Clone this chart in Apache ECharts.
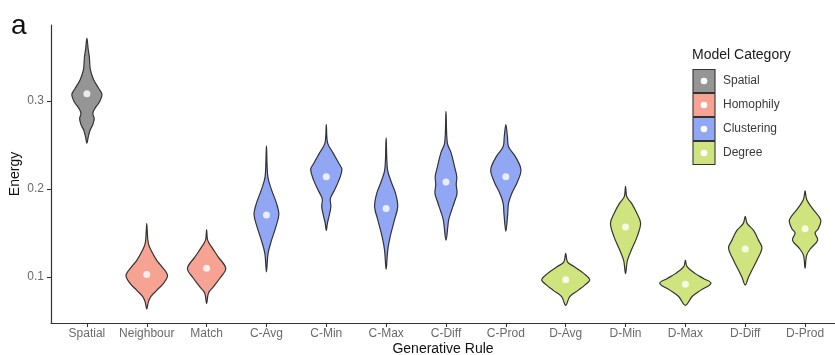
<!DOCTYPE html>
<html>
<head>
<meta charset="utf-8">
<script src="https://cdn.jsdelivr.net/npm/echarts@6/dist/echarts.min.js"></script>
<style>
  html, body { margin: 0; padding: 0; background: #ffffff; }
  #chart { width: 835px; height: 355px; }
</style>
</head>
<body>
<div id="chart"></div>
<script>
// Generative rules along the x axis and the model category of each
const rules = ['Spatial', 'Neighbour', 'Match', 'C-Avg', 'C-Min', 'C-Max', 'C-Diff', 'C-Prod',
               'D-Avg', 'D-Min', 'D-Max', 'D-Diff', 'D-Prod'];
const ruleCategory = [0, 1, 1, 2, 2, 2, 2, 2, 3, 3, 3, 3, 3];
const categoryNames = ['Spatial', 'Homophily', 'Clustering', 'Degree'];
const categoryColors = ['#959595', '#F7A393', '#92A7F4', '#CFE47F'];

// Median energy of each rule (white dots)
const medians = [0.308, 0.103, 0.110, 0.1705, 0.214, 0.178, 0.208, 0.214,
                 0.097, 0.157, 0.092, 0.132, 0.155];

// Energy ticks
const energyTicks = [0.1, 0.2, 0.3];

// Density profiles, top to bottom: energy levels and relative density (1 = widest violin)
const spatialE   = [0.371, 0.358, 0.350, 0.335, 0.324, 0.314, 0.307, 0.299, 0.292, 0.286, 0.280, 0.273, 0.267, 0.259, 0.252];
const spatialD   = [0, 0.05, 0.09, 0.13, 0.25, 0.44, 0.56, 0.47, 0.31, 0.22, 0.27, 0.22, 0.12, 0.05, 0];
const neighbourE = [0.161, 0.146, 0.138, 0.131, 0.119, 0.112, 0.102, 0.093, 0.085, 0.078, 0.072, 0.064];
const neighbourD = [0, 0.03, 0.06, 0.15, 0.37, 0.56, 0.77, 0.62, 0.37, 0.15, 0.06, 0];
const matchE     = [0.154, 0.142, 0.134, 0.123, 0.110, 0.099, 0.089, 0.082, 0.070];
const matchD     = [0, 0.04, 0.19, 0.43, 0.71, 0.50, 0.25, 0.07, 0];
const cAvgE      = [0.249, 0.214, 0.199, 0.184, 0.171, 0.157, 0.142, 0.127, 0.106];
const cAvgD      = [0, 0.05, 0.19, 0.37, 0.46, 0.35, 0.19, 0.06, 0];
const cMinE      = [0.273, 0.252, 0.241, 0.229, 0.222, 0.210, 0.199, 0.189, 0.180, 0.169, 0.161, 0.153];
const cMinD      = [0, 0.05, 0.25, 0.47, 0.58, 0.47, 0.31, 0.15, 0.17, 0.10, 0.04, 0];
const cMaxE      = [0.258, 0.222, 0.208, 0.195, 0.180, 0.165, 0.146, 0.131, 0.109];
const cMaxD      = [0, 0.05, 0.19, 0.35, 0.43, 0.31, 0.15, 0.06, 0];
const cDiffE     = [0.288, 0.252, 0.241, 0.225, 0.214, 0.205, 0.195, 0.185, 0.175, 0.165, 0.142];
const cDiffD     = [0, 0.05, 0.19, 0.32, 0.40, 0.38, 0.41, 0.31, 0.20, 0.10, 0];
const cProdE     = [0.273, 0.259, 0.248, 0.237, 0.222, 0.208, 0.195, 0.184, 0.172, 0.152];
const cProdD     = [0, 0.06, 0.10, 0.35, 0.56, 0.43, 0.22, 0.10, 0.07, 0];
const dAvgE      = [0.127, 0.117, 0.112, 0.104, 0.097, 0.091, 0.085, 0.078, 0.068];
const dAvgD      = [0, 0.07, 0.31, 0.68, 0.89, 0.71, 0.46, 0.15, 0];
const dMinE      = [0.203, 0.191, 0.184, 0.172, 0.161, 0.146, 0.131, 0.119, 0.104];
const dMinD      = [0, 0.05, 0.22, 0.43, 0.56, 0.43, 0.22, 0.07, 0];
const dMaxE      = [0.119, 0.112, 0.104, 0.0985, 0.093, 0.085, 0.078, 0.068];
const dMaxD      = [0, 0.06, 0.37, 0.67, 0.95, 0.56, 0.25, 0];
const dDiffE     = [0.169, 0.161, 0.153, 0.142, 0.133, 0.119, 0.108, 0.100, 0.091];
const dDiffD     = [0, 0.07, 0.31, 0.49, 0.62, 0.43, 0.25, 0.12, 0];
const dProdE     = [0.198, 0.188, 0.178, 0.165, 0.155, 0.150, 0.142, 0.133, 0.125, 0.110];
const dProdD     = [0, 0.06, 0.27, 0.58, 0.49, 0.37, 0.47, 0.22, 0.06, 0];

const profiles = [
  [spatialE, spatialD], [neighbourE, neighbourD], [matchE, matchD],
  [cAvgE, cAvgD], [cMinE, cMinD], [cMaxE, cMaxD], [cDiffE, cDiffD], [cProdE, cProdD],
  [dAvgE, dAvgD], [dMinE, dMinD], [dMaxE, dMaxD], [dDiffE, dDiffD], [dProdE, dProdD]
];

// Widest violin spans 0.9 of a category slot
const MAX_HALF_WIDTH = 0.45;
const FONT = '"Liberation Sans", Arial, Helvetica, sans-serif';
const ruleIndex = rules.map((_, i) => i);

function renderViolin(params, api) {
  const i = api.value(0);
  const energy = profiles[i][0];
  const dens = profiles[i][1];
  const left = [];
  const right = [];
  for (let k = 0; k < energy.length; k++) {
    const hw = dens[k] * MAX_HALF_WIDTH;
    left.push(api.coord([i - hw, energy[k]]));
    if (k > 0 && k < energy.length - 1) {
      right.push(api.coord([i + hw, energy[k]]));
    }
  }
  const points = left.concat(right.reverse());
  return {
    type: 'polygon',
    shape: { points: points, smooth: 0.35 },
    style: {
      fill: categoryColors[ruleCategory[i]],
      stroke: '#333333',
      lineWidth: 1.2
    }
  };
}

// Legend drawn as filled keys with a white dot
const legendGraphics = [{
  type: 'text', x: 692, y: 55,
  style: { text: 'Model Category', font: '14px ' + FONT, fill: '#1a1a1a', verticalAlign: 'middle' }
}];
categoryNames.forEach((name, k) => {
  legendGraphics.push({
    type: 'rect',
    shape: { x: 693, y: 69.5 + 24 * k, width: 22, height: 23 },
    style: { fill: categoryColors[k], stroke: '#333333', lineWidth: 1.1 }
  });
  legendGraphics.push({
    type: 'circle',
    shape: { cx: 704, cy: 81 + 24 * k, r: 3.3 },
    style: { fill: '#ffffff' }
  });
  legendGraphics.push({
    type: 'text', x: 723, y: 81 + 24 * k,
    style: { text: name, font: '12px ' + FONT, fill: '#3a3a3a', verticalAlign: 'middle' }
  });
});
legendGraphics.push({
  type: 'text', x: 11, y: 26,
  style: { text: 'a', font: '28px ' + FONT, fill: '#111111', verticalAlign: 'middle' }
});

const chart = echarts.init(document.getElementById('chart'), null, { renderer: 'canvas' });
chart.setOption({
  animation: false,
  backgroundColor: '#ffffff',
  grid: { left: 51, right: 0, top: 25, bottom: 32, containLabel: false, outerBoundsMode: 'none' },
  xAxis: {
    type: 'value',
    min: -0.6,
    max: 12.5,
    splitLine: { show: false },
    axisLine: { show: true, onZero: false, lineStyle: { color: '#333333', width: 1.2 } },
    axisTick: { show: true, length: 4, customValues: ruleIndex, lineStyle: { color: '#333333', width: 1.1 } },
    axisLabel: {
      customValues: ruleIndex,
      formatter: v => rules[Math.round(v)],
      color: '#6a6a6a', fontSize: 12, fontFamily: FONT, margin: 5
    },
    name: 'Generative Rule',
    nameLocation: 'middle',
    nameMoveOverlap: false,
    nameGap: 19,
    nameTextStyle: { fontSize: 14, color: '#111111', fontFamily: FONT }
  },
  yAxis: {
    type: 'value',
    min: 0.048,
    max: 0.386,
    splitLine: { show: false },
    axisLine: { show: true, onZero: false, lineStyle: { color: '#333333', width: 1.2 } },
    axisTick: { show: true, length: 4, customValues: energyTicks, lineStyle: { color: '#333333', width: 1.1 } },
    axisLabel: {
      customValues: energyTicks,
      formatter: v => v.toFixed(1),
      color: '#6a6a6a', fontSize: 12, fontFamily: FONT, margin: 7
    },
    name: 'Energy',
    nameLocation: 'middle',
    nameMoveOverlap: false,
    nameGap: 29,
    nameTextStyle: { fontSize: 14, color: '#111111', fontFamily: FONT }
  },
  series: [
    {
      type: 'custom',
      renderItem: renderViolin,
      data: ruleIndex.map(i => [i]),
      encode: { x: 0 },
      clip: false,
      z: 2
    },
    {
      type: 'scatter',
      data: ruleIndex.map(i => [i, medians[i]]),
      symbol: 'circle',
      symbolSize: 7,
      itemStyle: { color: '#ffffff' },
      z: 3,
      silent: true
    }
  ],
  graphic: legendGraphics
});
</script>
</body>
</html>
